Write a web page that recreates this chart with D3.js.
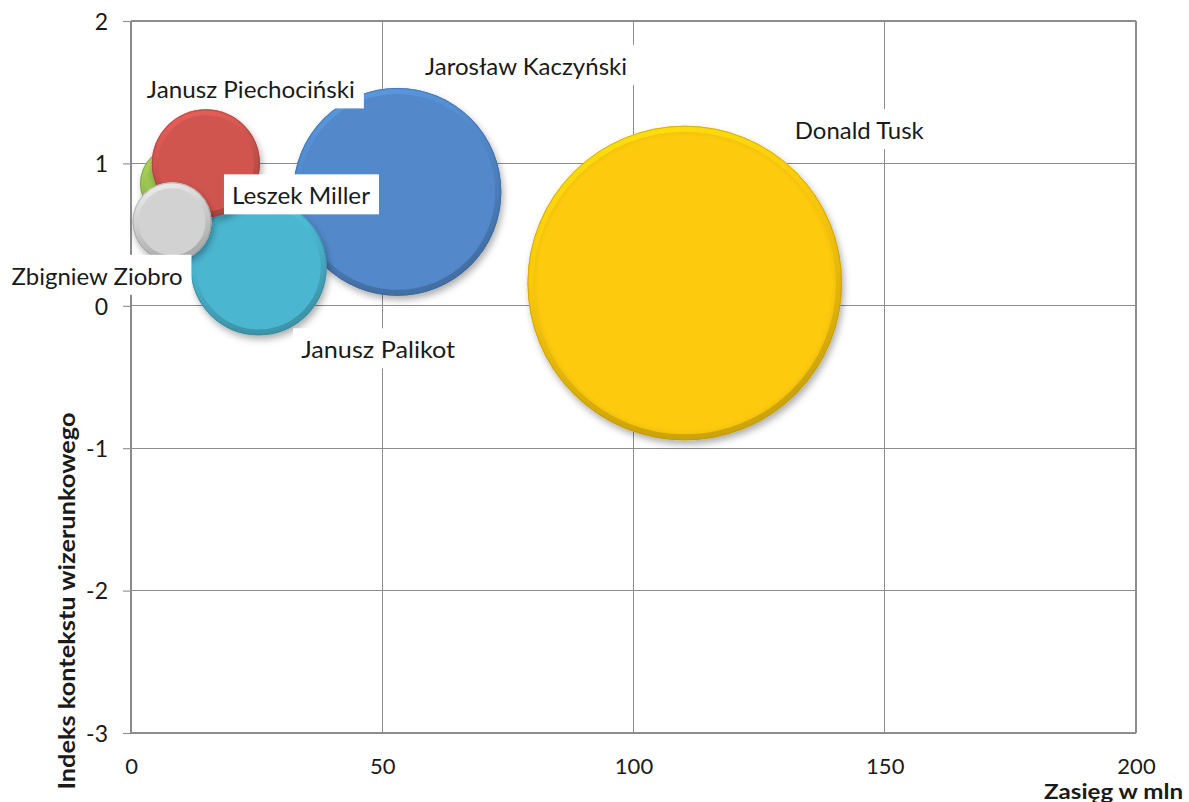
<!DOCTYPE html>
<html>
<head>
<meta charset="utf-8">
<script src="https://cdn.jsdelivr.net/npm/d3@7"></script>
<style>
  html, body { margin: 0; padding: 0; background: #ffffff; }
  svg { display: block; }
  text { font-family: Lato, "Open Sans", "Noto Sans", sans-serif; fill: #1a1a1a; }
</style>
</head>
<body>
<svg id="chart" width="1189" height="802"></svg>
<script>
// ---- data ----
const names   = ["Donald Tusk", "Jarosław Kaczyński", "Janusz Palikot", "Leszek Miller", "Janusz Piechociński", "Zbigniew Ziobro"];
const reach   = [110.2, 53.0, 25.4, 9.15, 14.9, 8.16];     // Zasięg w mln (x)
const index   = [0.16, 0.80, 0.27, 0.86, 1.00, 0.59];      // Indeks kontekstu wizerunkowego (y)
const sizes   = [100, 43.7, 18.7, 5.5, 11.8, 6.3];         // bubble size
const colors  = ["#FDCA0B", "#5289CA", "#4BB6D0", "#9CC552", "#D05550", "#D2D2D2"];
const xTicks  = [0, 50, 100, 150, 200];
const yTicks  = [2, 1, 0, -1, -2, -3];
const xTitle  = "Zasięg w mln";
const yTitle  = "Indeks kontekstu wizerunkowego";

// ---- layout ----
const W = 1189, H = 802;
const plot = { left: 131, right: 1136, top: 21, bottom: 733 };
// label placement: offset of label centre / baseline from bubble centre (px), and target text width
const labelLayout = [
  { dx: 174.5, dy: -144, w: 129 },
  { dx: 128.7, dy: -117, w: 202 },
  { dx: 119.5, dy: 91,   w: 154 },
  { dx: 124,   dy: 21,   w: 138 },
  { dx: 45,    dy: -65,  w: 208 },
  { dx: -75,   dy: 63,   w: 171 }
];

const svg = d3.select("#chart");
const x = d3.scaleLinear().domain([0, 200]).range([plot.left, plot.right]);
const y = d3.scaleLinear().domain([-3, 2]).range([plot.bottom, plot.top]);
const r = d3.scaleSqrt().domain([0, 100]).range([0, 157.3]);
const fmt = d => String(d);   // plain hyphen minus, as in the reference

const gridColor = "#8c8c8c";

// grid lines
const g = svg.append("g");
g.selectAll("line.h").data(yTicks).join("line")
  .attr("x1", plot.left).attr("x2", plot.right)
  .attr("y1", d => y(d)).attr("y2", d => y(d))
  .attr("stroke", gridColor).attr("stroke-width", 1.1).attr("shape-rendering", "crispEdges");
g.selectAll("line.v").data(xTicks).join("line")
  .attr("y1", plot.top).attr("y2", plot.bottom)
  .attr("x1", d => x(d)).attr("x2", d => x(d))
  .attr("stroke", gridColor).attr("stroke-width", 1.1).attr("shape-rendering", "crispEdges");

// y axis (ticks + labels)
const yAxis = d3.axisLeft(y).tickValues(yTicks).tickSize(8).tickPadding(15).tickFormat(fmt);
const ya = svg.append("g").attr("transform", `translate(${plot.left},0)`).call(yAxis);
ya.select(".domain").attr("stroke", gridColor).attr("stroke-width", 1.1);
ya.selectAll(".tick line").attr("stroke", gridColor).attr("stroke-width", 1.1);
ya.selectAll(".tick text").attr("font-size", 23).attr("fill", "#1a1a1a")
  .style("font-family", "Lato, 'Open Sans', sans-serif").attr("dy", "0.36em");

// x axis labels
const xAxis = d3.axisBottom(x).tickValues(xTicks).tickSize(0).tickPadding(30).tickFormat(fmt);
const xa = svg.append("g").attr("transform", `translate(0,${plot.bottom})`).call(xAxis);
xa.select(".domain").remove();
xa.selectAll(".tick text").attr("font-size", 22).attr("fill", "#1a1a1a")
  .style("font-family", "Lato, 'Open Sans', sans-serif").attr("dy", null).attr("y", 41);

// ---- bubbles ----
const defs = svg.append("defs");
const f = defs.append("filter").attr("id", "shadow").attr("x", "-20%").attr("y", "-20%").attr("width", "140%").attr("height", "140%");
f.append("feDropShadow").attr("dx", 2).attr("dy", 4).attr("stdDeviation", 3.5)
  .attr("flood-color", "#000").attr("flood-opacity", 0.32);

colors.forEach((c, i) => {
  const lg = defs.append("linearGradient").attr("id", "rim" + i)
    .attr("x1", 0).attr("y1", 0).attr("x2", 0.3).attr("y2", 1);
  lg.append("stop").attr("offset", "0%").attr("stop-color", d3.color(c).brighter(0.45));
  lg.append("stop").attr("offset", "45%").attr("stop-color", c);
  lg.append("stop").attr("offset", "100%").attr("stop-color", d3.color(c).darker(0.7));
  const rg = defs.append("radialGradient").attr("id", "soft" + i);
  rg.append("stop").attr("offset", "0%").attr("stop-color", c);
  rg.append("stop").attr("offset", "93%").attr("stop-color", c);
  rg.append("stop").attr("offset", "100%").attr("stop-color", d3.color(c).darker(0.25));
});

const data = names.map((n, i) => ({ name: n, x: reach[i], y: index[i], s: sizes[i], c: colors[i], i }));

const bub = svg.append("g").selectAll("g").data(data).join("g")
  .attr("transform", d => `translate(${x(d.x)},${y(d.y)})`);
bub.append("circle").attr("r", d => r(d.s)).attr("fill", d => `url(#soft${d.i})`).attr("filter", "url(#shadow)");
bub.append("circle").attr("r", d => r(d.s) - 3).attr("fill", "none")
  .attr("stroke", d => `url(#rim${d.i})`).attr("stroke-width", 6).attr("opacity", 0.8);
bub.append("circle").attr("r", d => r(d.s) - 0.5).attr("fill", "none")
  .attr("stroke", d => d3.color(d.c).darker(0.9)).attr("stroke-width", 1).attr("opacity", 0.55);

// ---- labels ----
const lab = svg.append("g").selectAll("g").data(data).join("g")
  .attr("transform", d => {
    const L = labelLayout[d.i];
    return `translate(${x(d.x) + L.dx},${y(d.y) + L.dy})`;
  });
lab.append("rect")
  .attr("x", d => -labelLayout[d.i].w / 2 - 8)
  .attr("y", -30)
  .attr("width", d => labelLayout[d.i].w + 17)
  .attr("height", 40)
  .attr("fill", "#ffffff");
lab.append("text")
  .attr("text-anchor", "middle")
  .attr("font-size", 23)
  .attr("textLength", d => labelLayout[d.i].w)
  .attr("lengthAdjust", "spacingAndGlyphs")
  .text(d => d.name);

// ---- axis titles ----
svg.append("text")
  .attr("x", 1183).attr("y", 799)
  .attr("text-anchor", "end")
  .attr("font-size", 20).attr("font-weight", "bold")
  .attr("textLength", 139).attr("lengthAdjust", "spacingAndGlyphs")
  .text(xTitle);

svg.append("text")
  .attr("transform", "translate(75,601) rotate(-90)")
  .attr("text-anchor", "middle")
  .attr("font-size", 22).attr("font-weight", "bold")
  .attr("textLength", 377).attr("lengthAdjust", "spacingAndGlyphs")
  .text(yTitle);
</script>
</body>
</html>
